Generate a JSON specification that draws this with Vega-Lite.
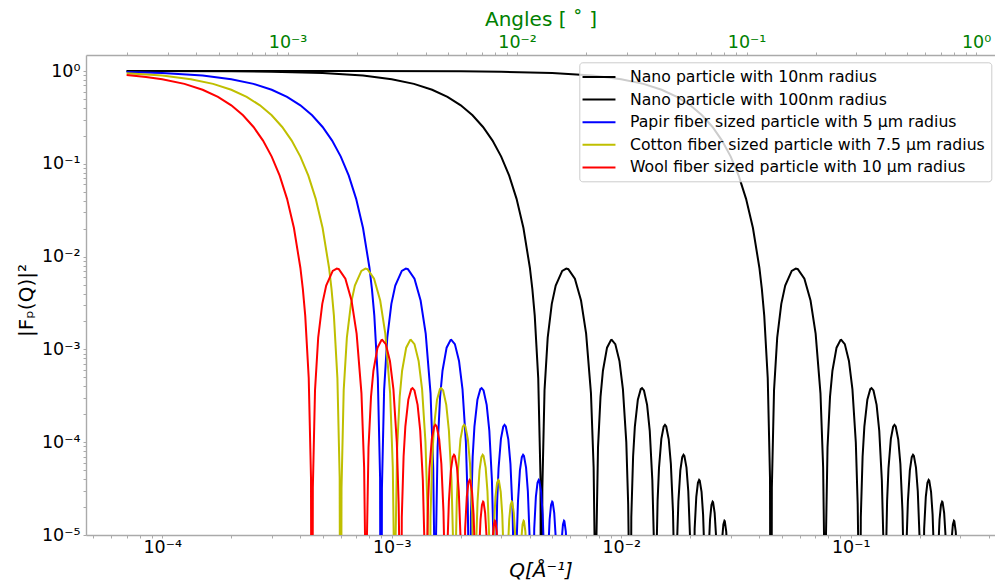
{
"$schema": "https://vega.github.io/schema/vega-lite/v6.json",
"width": 909, "height": 480,
"autosize": {"type": "none"},
"padding": {"left": 86, "top": 55, "right": 0, "bottom": 46},
"config": {
  "view": {"stroke": null},
  "font": "DejaVu Sans",
  "axis": {"grid": false, "domainColor": "#aaaaaa", "tickColor": "#aaaaaa", "domainWidth": 1.4, "tickWidth": 1, "tickSize": 3,
    "labelFont": "DejaVu Sans", "titleFont": "DejaVu Sans", "titleFontWeight": "normal", "labelFontSize": 17.5, "titleFontSize": 20,
    "labelOverlap": false, "labelFlush": false, "labelBound": false, "zindex": 1, "labelColor": "#000000", "titleColor": "#000000"}
},
"datasets": {
"n10": [
{"q":0.00007,"F":1},{"q":0.0007,"F":0.99902},{"q":0.002,"F":0.99203},{"q":0.003,"F":0.98214},{"q":0.005,"F":0.95106},{"q":0.0075,"F":0.89278},{"q":0.01,"F":0.81632},{"q":0.0125,"F":0.72628},{"q":0.015,"F":0.62781},{"q":0.0175,"F":0.5262},{"q":0.02,"F":0.42654},{"q":0.0225,"F":0.33313},{"q":0.025,"F":0.24946},{"q":0.0275,"F":0.17785},{"q":0.03,"F":0.11949},{"q":0.0325,"F":0.074475},{"q":0.035,"F":0.04194},{"q":0.0375,"F":0.020317},{"q":0.04,"F":0.0075834},{"q":0.041,"F":0.0044847},{"q":0.042,"F":0.0023122},{"q":0.0435,"F":0.0004895},{"q":0.0445,"F":0.00004119},{"q":0.044934,"F":1e-9},
{"q":4.5332e-2,"F":3.2116e-5},{"q":4.6332e-2,"F":3.6144e-4},{"q":4.7832e-2,"F":1.3411e-3},{"q":4.9832e-2,"F":3.1e-3},{"q":5.1832e-2,"F":4.8794e-3},{"q":5.5332e-2,"F":7.017e-3},{"q":5.7635e-2,"F":7.427e-3},{"q":5.8832e-2,"F":7.3224e-3},{"q":6.2832e-2,"F":5.7746e-3},{"q":6.6832e-2,"F":3.3583e-3},{"q":7.0332e-2,"F":1.4821e-3},{"q":7.3832e-2,"F":3.3563e-4},{"q":7.5832e-2,"F":5.3677e-5},{"q":7.6832e-2,"F":4.4926e-6},{"q":7.7253e-2,"F":1e-9},
{"q":7.7748e-2,"F":5.9372e-6},{"q":7.9248e-2,"F":8.8204e-5},{"q":8.1248e-2,"F":3.0788e-4},{"q":8.3248e-2,"F":5.8903e-4},{"q":8.6748e-2,"F":1.04343e-3},{"q":9.0248e-2,"F":1.26136e-3},{"q":9.095e-2,"F":1.2677e-3},{"q":9.4248e-2,"F":1.14067e-3},{"q":9.8248e-2,"F":7.5045e-4},{"q":10.1748e-2,"F":3.7101e-4},{"q":10.5248e-2,"F":9.9828e-5},{"q":10.7248e-2,"F":2.147e-5},{"q":10.8248e-2,"F":4.0837e-6},{"q":10.9041e-2,"F":1e-9},
{"q":11.0664e-2,"F":1.5531e-5},{"q":11.2664e-2,"F":6.9617e-5},{"q":11.4664e-2,"F":1.4698e-4},{"q":11.8164e-2,"F":2.8765e-4},{"q":12.1664e-2,"F":3.7312e-4},{"q":12.3229e-2,"F":3.826e-4},{"q":12.5664e-2,"F":3.6091e-4},{"q":12.9664e-2,"F":2.5278e-4},{"q":13.3164e-2,"F":1.3254e-4},{"q":13.6664e-2,"F":3.8918e-5},{"q":13.8664e-2,"F":9.545e-6},{"q":14.0662e-2,"F":1e-9},
{"q":14.208e-2,"F":4.3874e-6},{"q":14.408e-2,"F":2.3351e-5},{"q":14.608e-2,"F":5.234e-5},{"q":14.958e-2,"F":1.0861e-4},{"q":15.308e-2,"F":1.4683e-4},{"q":15.5146e-2,"F":1.534e-4},{"q":15.708e-2,"F":1.4783e-4},{"q":16.108e-2,"F":1.0754e-4},{"q":16.458e-2,"F":5.845e-5},{"q":16.808e-2,"F":1.8094e-5},{"q":17.008e-2,"F":4.78e-6},{"q":17.2208e-2,"F":1e-9},
{"q":17.5496e-2,"F":9.862e-6},{"q":17.7496e-2,"F":2.3015e-5},{"q":18.0996e-2,"F":4.9638e-5},{"q":18.4496e-2,"F":6.8953e-5},{"q":18.689e-2,"F":7.313e-5},{"q":18.8496e-2,"F":7.1292e-5},{"q":19.2496e-2,"F":5.3192e-5},{"q":19.5996e-2,"F":2.9622e-5},{"q":19.9496e-2,"F":9.502e-6},{"q":20.3713e-2,"F":1e-9},
{"q":20.8911e-2,"F":1.1636e-5},{"q":21.2411e-2,"F":2.5791e-5},{"q":21.5911e-2,"F":3.6523e-5},{"q":21.854e-2,"F":3.921e-5},{"q":21.9911e-2,"F":3.8481e-5},{"q":22.3911e-2,"F":2.9239e-5},{"q":22.7411e-2,"F":1.657e-5},{"q":23.0911e-2,"F":5.452e-6},{"q":23.5195e-2,"F":1e-9},
{"q":24.0327e-2,"F":6.496e-6},{"q":24.3827e-2,"F":1.4694e-5},{"q":24.7327e-2,"F":2.1108e-5},{"q":25.013e-2,"F":2.288e-5},{"q":25.1327e-2,"F":2.2557e-5},{"q":25.5327e-2,"F":1.7375e-5},{"q":25.8827e-2,"F":9.977e-6},{"q":26.6661e-2,"F":1e-9},
{"q":27.5243e-2,"F":8.973e-6},{"q":27.8743e-2,"F":1.3034e-5},{"q":28.168e-2,"F":1.424e-5},{"q":28.2743e-2,"F":1.4082e-5},{"q":28.6743e-2,"F":1.0963e-5},{"q":29.0243e-2,"F":6.361e-6},{"q":29.8116e-2,"F":1e-9}
],
"n100": [
{"q":0.00007,"F":0.99902},{"q":0.0002,"F":0.99203},{"q":0.0003,"F":0.98214},{"q":0.0005,"F":0.95106},{"q":0.00075,"F":0.89278},{"q":0.001,"F":0.81632},{"q":0.00125,"F":0.72628},{"q":0.0015,"F":0.62781},{"q":0.00175,"F":0.5262},{"q":0.002,"F":0.42654},{"q":0.00225,"F":0.33313},{"q":0.0025,"F":0.24946},{"q":0.00275,"F":0.17785},{"q":0.003,"F":0.11949},{"q":0.00325,"F":0.074475},{"q":0.0035,"F":0.04194},{"q":0.00375,"F":0.020317},{"q":0.004,"F":0.0075834},{"q":0.0041,"F":0.0044847},{"q":0.0042,"F":0.0023122},{"q":0.00435,"F":0.0004895},{"q":0.00445,"F":0.00004119},{"q":0.0044934,"F":1e-9},
{"q":4.5332e-3,"F":3.2116e-5},{"q":4.6332e-3,"F":3.6144e-4},{"q":4.7832e-3,"F":1.3411e-3},{"q":4.9832e-3,"F":3.1e-3},{"q":5.1832e-3,"F":4.8794e-3},{"q":5.5332e-3,"F":7.017e-3},{"q":5.7635e-3,"F":7.427e-3},{"q":5.8832e-3,"F":7.3224e-3},{"q":6.2832e-3,"F":5.7746e-3},{"q":6.6832e-3,"F":3.3583e-3},{"q":7.0332e-3,"F":1.4821e-3},{"q":7.3832e-3,"F":3.3563e-4},{"q":7.5832e-3,"F":5.3677e-5},{"q":7.6832e-3,"F":4.4926e-6},{"q":7.7253e-3,"F":1e-9},
{"q":7.7748e-3,"F":5.9372e-6},{"q":7.9248e-3,"F":8.8204e-5},{"q":8.1248e-3,"F":3.0788e-4},{"q":8.3248e-3,"F":5.8903e-4},{"q":8.6748e-3,"F":1.04343e-3},{"q":9.0248e-3,"F":1.26136e-3},{"q":9.095e-3,"F":1.2677e-3},{"q":9.4248e-3,"F":1.14067e-3},{"q":9.8248e-3,"F":7.5045e-4},{"q":10.1748e-3,"F":3.7101e-4},{"q":10.5248e-3,"F":9.9828e-5},{"q":10.7248e-3,"F":2.147e-5},{"q":10.8248e-3,"F":4.0837e-6},{"q":10.9041e-3,"F":1e-9},
{"q":11.0664e-3,"F":1.5531e-5},{"q":11.2664e-3,"F":6.9617e-5},{"q":11.4664e-3,"F":1.4698e-4},{"q":11.8164e-3,"F":2.8765e-4},{"q":12.1664e-3,"F":3.7312e-4},{"q":12.3229e-3,"F":3.826e-4},{"q":12.5664e-3,"F":3.6091e-4},{"q":12.9664e-3,"F":2.5278e-4},{"q":13.3164e-3,"F":1.3254e-4},{"q":13.6664e-3,"F":3.8918e-5},{"q":13.8664e-3,"F":9.545e-6},{"q":14.0662e-3,"F":1e-9},
{"q":14.208e-3,"F":4.3874e-6},{"q":14.408e-3,"F":2.3351e-5},{"q":14.608e-3,"F":5.234e-5},{"q":14.958e-3,"F":1.0861e-4},{"q":15.308e-3,"F":1.4683e-4},{"q":15.5146e-3,"F":1.534e-4},{"q":15.708e-3,"F":1.4783e-4},{"q":16.108e-3,"F":1.0754e-4},{"q":16.458e-3,"F":5.845e-5},{"q":16.808e-3,"F":1.8094e-5},{"q":17.008e-3,"F":4.78e-6},{"q":17.2208e-3,"F":1e-9},
{"q":17.5496e-3,"F":9.862e-6},{"q":17.7496e-3,"F":2.3015e-5},{"q":18.0996e-3,"F":4.9638e-5},{"q":18.4496e-3,"F":6.8953e-5},{"q":18.689e-3,"F":7.313e-5},{"q":18.8496e-3,"F":7.1292e-5},{"q":19.2496e-3,"F":5.3192e-5},{"q":19.5996e-3,"F":2.9622e-5},{"q":19.9496e-3,"F":9.502e-6},{"q":20.3713e-3,"F":1e-9},
{"q":20.8911e-3,"F":1.1636e-5},{"q":21.2411e-3,"F":2.5791e-5},{"q":21.5911e-3,"F":3.6523e-5},{"q":21.854e-3,"F":3.921e-5},{"q":21.9911e-3,"F":3.8481e-5},{"q":22.3911e-3,"F":2.9239e-5},{"q":22.7411e-3,"F":1.657e-5},{"q":23.0911e-3,"F":5.452e-6},{"q":23.5195e-3,"F":1e-9},
{"q":24.0327e-3,"F":6.496e-6},{"q":24.3827e-3,"F":1.4694e-5},{"q":24.7327e-3,"F":2.1108e-5},{"q":25.013e-3,"F":2.288e-5},{"q":25.1327e-3,"F":2.2557e-5},{"q":25.5327e-3,"F":1.7375e-5},{"q":25.8827e-3,"F":9.977e-6},{"q":26.6661e-3,"F":1e-9},
{"q":27.5243e-3,"F":8.973e-6},{"q":27.8743e-3,"F":1.3034e-5},{"q":28.168e-3,"F":1.424e-5},{"q":28.2743e-3,"F":1.4082e-5},{"q":28.6743e-3,"F":1.0963e-5},{"q":29.0243e-3,"F":6.361e-6},{"q":29.8116e-3,"F":1e-9}
],
"papir": [
{"q":7e-5,"F":0.97575},{"q":1e-4,"F":0.95106},{"q":1.5e-4,"F":0.89278},{"q":2e-4,"F":0.81632},{"q":2.5e-4,"F":0.72628},{"q":3e-4,"F":0.62781},{"q":3.5e-4,"F":0.5262},{"q":4e-4,"F":0.42654},{"q":4.5e-4,"F":0.33313},{"q":5e-4,"F":0.24946},{"q":5.5e-4,"F":0.17785},{"q":6e-4,"F":0.11949},{"q":6.5e-4,"F":0.074475},{"q":7e-4,"F":0.04194},{"q":7.5e-4,"F":0.020317},{"q":8e-4,"F":0.0075834},{"q":8.2e-4,"F":0.0044847},{"q":8.4e-4,"F":0.0023122},{"q":8.7e-4,"F":0.0004895},{"q":8.9e-4,"F":0.00004119},{"q":8.9868e-4,"F":1e-9},
{"q":9.0664e-4,"F":3.2116e-5},{"q":9.2664e-4,"F":3.6144e-4},{"q":9.5664e-4,"F":1.3411e-3},{"q":9.9664e-4,"F":3.1e-3},{"q":1.03664e-3,"F":4.8794e-3},{"q":1.10664e-3,"F":7.017e-3},{"q":1.1527e-3,"F":7.427e-3},{"q":1.17664e-3,"F":7.3224e-3},{"q":1.25664e-3,"F":5.7746e-3},{"q":1.33664e-3,"F":3.3583e-3},{"q":1.40664e-3,"F":1.4821e-3},{"q":1.47664e-3,"F":3.3563e-4},{"q":1.51664e-3,"F":5.3677e-5},{"q":1.53664e-3,"F":4.4926e-6},{"q":1.54506e-3,"F":1e-9},
{"q":1.55496e-3,"F":5.9372e-6},{"q":1.58496e-3,"F":8.8204e-5},{"q":1.62496e-3,"F":3.0788e-4},{"q":1.66496e-3,"F":5.8903e-4},{"q":1.73496e-3,"F":1.04343e-3},{"q":1.80496e-3,"F":1.26136e-3},{"q":1.819e-3,"F":1.2677e-3},{"q":1.88496e-3,"F":1.14067e-3},{"q":1.96496e-3,"F":7.5045e-4},{"q":2.03496e-3,"F":3.7101e-4},{"q":2.10496e-3,"F":9.9828e-5},{"q":2.14496e-3,"F":2.147e-5},{"q":2.16496e-3,"F":4.0837e-6},{"q":2.18082e-3,"F":1e-9},
{"q":2.21328e-3,"F":1.5531e-5},{"q":2.25328e-3,"F":6.9617e-5},{"q":2.29328e-3,"F":1.4698e-4},{"q":2.36328e-3,"F":2.8765e-4},{"q":2.43328e-3,"F":3.7312e-4},{"q":2.46458e-3,"F":3.826e-4},{"q":2.51328e-3,"F":3.6091e-4},{"q":2.59328e-3,"F":2.5278e-4},{"q":2.66328e-3,"F":1.3254e-4},{"q":2.73328e-3,"F":3.8918e-5},{"q":2.77328e-3,"F":9.545e-6},{"q":2.81324e-3,"F":1e-9},
{"q":2.8416e-3,"F":4.3874e-6},{"q":2.8816e-3,"F":2.3351e-5},{"q":2.9216e-3,"F":5.234e-5},{"q":2.9916e-3,"F":1.0861e-4},{"q":3.0616e-3,"F":1.4683e-4},{"q":3.10292e-3,"F":1.534e-4},{"q":3.1416e-3,"F":1.4783e-4},{"q":3.2216e-3,"F":1.0754e-4},{"q":3.2916e-3,"F":5.845e-5},{"q":3.3616e-3,"F":1.8094e-5},{"q":3.4016e-3,"F":4.78e-6},{"q":3.44416e-3,"F":1e-9},
{"q":3.50992e-3,"F":9.862e-6},{"q":3.54992e-3,"F":2.3015e-5},{"q":3.61992e-3,"F":4.9638e-5},{"q":3.68992e-3,"F":6.8953e-5},{"q":3.7378e-3,"F":7.313e-5},{"q":3.76992e-3,"F":7.1292e-5},{"q":3.84992e-3,"F":5.3192e-5},{"q":3.91992e-3,"F":2.9622e-5},{"q":3.98992e-3,"F":9.502e-6},{"q":4.07426e-3,"F":1e-9},
{"q":4.17822e-3,"F":1.1636e-5},{"q":4.24822e-3,"F":2.5791e-5},{"q":4.31822e-3,"F":3.6523e-5},{"q":4.3708e-3,"F":3.921e-5},{"q":4.39822e-3,"F":3.8481e-5},{"q":4.47822e-3,"F":2.9239e-5},{"q":4.54822e-3,"F":1.657e-5},{"q":4.61822e-3,"F":5.452e-6},{"q":4.7039e-3,"F":1e-9},
{"q":4.80654e-3,"F":6.496e-6},{"q":4.87654e-3,"F":1.4694e-5},{"q":4.94654e-3,"F":2.1108e-5},{"q":5.0026e-3,"F":2.288e-5},{"q":5.02654e-3,"F":2.2557e-5},{"q":5.10654e-3,"F":1.7375e-5},{"q":5.17654e-3,"F":9.977e-6},{"q":5.33322e-3,"F":1e-9},
{"q":5.50486e-3,"F":8.973e-6},{"q":5.57486e-3,"F":1.3034e-5},{"q":5.6336e-3,"F":1.424e-5},{"q":5.65486e-3,"F":1.4082e-5},{"q":5.73486e-3,"F":1.0963e-5},{"q":5.80486e-3,"F":6.361e-6},{"q":5.96232e-3,"F":1e-9}
],
"cotton": [
{"q":7e-5,"F":0.94616},{"q":1e-4,"F":0.89278},{"q":1.33333e-4,"F":0.81632},{"q":1.66667e-4,"F":0.72628},{"q":2e-4,"F":0.62781},{"q":2.33333e-4,"F":0.5262},{"q":2.66667e-4,"F":0.42654},{"q":3e-4,"F":0.33313},{"q":3.33333e-4,"F":0.24946},{"q":3.66667e-4,"F":0.17785},{"q":4e-4,"F":0.11949},{"q":4.33333e-4,"F":0.074475},{"q":4.66667e-4,"F":0.04194},{"q":5e-4,"F":0.020317},{"q":5.33333e-4,"F":0.0075834},{"q":5.46667e-4,"F":0.0044847},{"q":5.6e-4,"F":0.0023122},{"q":5.8e-4,"F":0.0004895},{"q":5.93333e-4,"F":0.00004119},{"q":5.9912e-4,"F":1e-9},
{"q":6.04427e-4,"F":3.2116e-5},{"q":6.1776e-4,"F":3.6144e-4},{"q":6.3776e-4,"F":1.3411e-3},{"q":6.64427e-4,"F":3.1e-3},{"q":6.91093e-4,"F":4.8794e-3},{"q":7.3776e-4,"F":7.017e-3},{"q":7.68467e-4,"F":7.427e-3},{"q":7.84427e-4,"F":7.3224e-3},{"q":8.3776e-4,"F":5.7746e-3},{"q":8.91093e-4,"F":3.3583e-3},{"q":9.3776e-4,"F":1.4821e-3},{"q":9.84427e-4,"F":3.3563e-4},{"q":1.011093e-3,"F":5.3677e-5},{"q":1.024427e-3,"F":4.4926e-6},{"q":1.03004e-3,"F":1e-9},
{"q":1.03664e-3,"F":5.9372e-6},{"q":1.05664e-3,"F":8.8204e-5},{"q":1.083307e-3,"F":3.0788e-4},{"q":1.109973e-3,"F":5.8903e-4},{"q":1.15664e-3,"F":1.04343e-3},{"q":1.203307e-3,"F":1.26136e-3},{"q":1.212667e-3,"F":1.2677e-3},{"q":1.25664e-3,"F":1.14067e-3},{"q":1.309973e-3,"F":7.5045e-4},{"q":1.35664e-3,"F":3.7101e-4},{"q":1.403307e-3,"F":9.9828e-5},{"q":1.429973e-3,"F":2.147e-5},{"q":1.443307e-3,"F":4.0837e-6},{"q":1.45388e-3,"F":1e-9},
{"q":1.47552e-3,"F":1.5531e-5},{"q":1.502187e-3,"F":6.9617e-5},{"q":1.528853e-3,"F":1.4698e-4},{"q":1.57552e-3,"F":2.8765e-4},{"q":1.622187e-3,"F":3.7312e-4},{"q":1.643053e-3,"F":3.826e-4},{"q":1.67552e-3,"F":3.6091e-4},{"q":1.728853e-3,"F":2.5278e-4},{"q":1.77552e-3,"F":1.3254e-4},{"q":1.822187e-3,"F":3.8918e-5},{"q":1.848853e-3,"F":9.545e-6},{"q":1.875493e-3,"F":1e-9},
{"q":1.8944e-3,"F":4.3874e-6},{"q":1.921067e-3,"F":2.3351e-5},{"q":1.947733e-3,"F":5.234e-5},{"q":1.9944e-3,"F":1.0861e-4},{"q":2.041067e-3,"F":1.4683e-4},{"q":2.068613e-3,"F":1.534e-4},{"q":2.0944e-3,"F":1.4783e-4},{"q":2.147733e-3,"F":1.0754e-4},{"q":2.1944e-3,"F":5.845e-5},{"q":2.241067e-3,"F":1.8094e-5},{"q":2.267733e-3,"F":4.78e-6},{"q":2.296107e-3,"F":1e-9},
{"q":2.339947e-3,"F":9.862e-6},{"q":2.366613e-3,"F":2.3015e-5},{"q":2.41328e-3,"F":4.9638e-5},{"q":2.459947e-3,"F":6.8953e-5},{"q":2.491867e-3,"F":7.313e-5},{"q":2.51328e-3,"F":7.1292e-5},{"q":2.566613e-3,"F":5.3192e-5},{"q":2.61328e-3,"F":2.9622e-5},{"q":2.659947e-3,"F":9.502e-6},{"q":2.716173e-3,"F":1e-9},
{"q":2.78548e-3,"F":1.1636e-5},{"q":2.832147e-3,"F":2.5791e-5},{"q":2.878813e-3,"F":3.6523e-5},{"q":2.913867e-3,"F":3.921e-5},{"q":2.932147e-3,"F":3.8481e-5},{"q":2.98548e-3,"F":2.9239e-5},{"q":3.032147e-3,"F":1.657e-5},{"q":3.078813e-3,"F":5.452e-6},{"q":3.135933e-3,"F":1e-9},
{"q":3.20436e-3,"F":6.496e-6},{"q":3.251027e-3,"F":1.4694e-5},{"q":3.297693e-3,"F":2.1108e-5},{"q":3.335067e-3,"F":2.288e-5},{"q":3.351027e-3,"F":2.2557e-5},{"q":3.40436e-3,"F":1.7375e-5},{"q":3.451027e-3,"F":9.977e-6},{"q":3.55548e-3,"F":1e-9},
{"q":3.669907e-3,"F":8.973e-6},{"q":3.716573e-3,"F":1.3034e-5},{"q":3.755733e-3,"F":1.424e-5},{"q":3.769907e-3,"F":1.4082e-5},{"q":3.82324e-3,"F":1.0963e-5},{"q":3.869907e-3,"F":6.361e-6},{"q":3.97488e-3,"F":1e-9}
],
"wool": [
{"q":7e-5,"F":0.90602},{"q":8.5e-5,"F":0.86414},{"q":1e-4,"F":0.81632},{"q":1.25e-4,"F":0.72628},{"q":1.5e-4,"F":0.62781},{"q":1.75e-4,"F":0.5262},{"q":2e-4,"F":0.42654},{"q":2.25e-4,"F":0.33313},{"q":2.5e-4,"F":0.24946},{"q":2.75e-4,"F":0.17785},{"q":3e-4,"F":0.11949},{"q":3.25e-4,"F":0.074475},{"q":3.5e-4,"F":0.04194},{"q":3.75e-4,"F":0.020317},{"q":4e-4,"F":0.0075834},{"q":4.1e-4,"F":0.0044847},{"q":4.2e-4,"F":0.0023122},{"q":4.35e-4,"F":0.0004895},{"q":4.45e-4,"F":0.00004119},{"q":4.4934e-4,"F":1e-9},
{"q":4.5332e-4,"F":3.2116e-5},{"q":4.6332e-4,"F":3.6144e-4},{"q":4.7832e-4,"F":1.3411e-3},{"q":4.9832e-4,"F":3.1e-3},{"q":5.1832e-4,"F":4.8794e-3},{"q":5.5332e-4,"F":7.017e-3},{"q":5.7635e-4,"F":7.427e-3},{"q":5.8832e-4,"F":7.3224e-3},{"q":6.2832e-4,"F":5.7746e-3},{"q":6.6832e-4,"F":3.3583e-3},{"q":7.0332e-4,"F":1.4821e-3},{"q":7.3832e-4,"F":3.3563e-4},{"q":7.5832e-4,"F":5.3677e-5},{"q":7.6832e-4,"F":4.4926e-6},{"q":7.7253e-4,"F":1e-9},
{"q":7.7748e-4,"F":5.9372e-6},{"q":7.9248e-4,"F":8.8204e-5},{"q":8.1248e-4,"F":3.0788e-4},{"q":8.3248e-4,"F":5.8903e-4},{"q":8.6748e-4,"F":1.04343e-3},{"q":9.0248e-4,"F":1.26136e-3},{"q":9.095e-4,"F":1.2677e-3},{"q":9.4248e-4,"F":1.14067e-3},{"q":9.8248e-4,"F":7.5045e-4},{"q":10.1748e-4,"F":3.7101e-4},{"q":10.5248e-4,"F":9.9828e-5},{"q":10.7248e-4,"F":2.147e-5},{"q":10.8248e-4,"F":4.0837e-6},{"q":10.9041e-4,"F":1e-9},
{"q":11.0664e-4,"F":1.5531e-5},{"q":11.2664e-4,"F":6.9617e-5},{"q":11.4664e-4,"F":1.4698e-4},{"q":11.8164e-4,"F":2.8765e-4},{"q":12.1664e-4,"F":3.7312e-4},{"q":12.3229e-4,"F":3.826e-4},{"q":12.5664e-4,"F":3.6091e-4},{"q":12.9664e-4,"F":2.5278e-4},{"q":13.3164e-4,"F":1.3254e-4},{"q":13.6664e-4,"F":3.8918e-5},{"q":13.8664e-4,"F":9.545e-6},{"q":14.0662e-4,"F":1e-9},
{"q":14.208e-4,"F":4.3874e-6},{"q":14.408e-4,"F":2.3351e-5},{"q":14.608e-4,"F":5.234e-5},{"q":14.958e-4,"F":1.0861e-4},{"q":15.308e-4,"F":1.4683e-4},{"q":15.5146e-4,"F":1.534e-4},{"q":15.708e-4,"F":1.4783e-4},{"q":16.108e-4,"F":1.0754e-4},{"q":16.458e-4,"F":5.845e-5},{"q":16.808e-4,"F":1.8094e-5},{"q":17.008e-4,"F":4.78e-6},{"q":17.2208e-4,"F":1e-9},
{"q":17.5496e-4,"F":9.862e-6},{"q":17.7496e-4,"F":2.3015e-5},{"q":18.0996e-4,"F":4.9638e-5},{"q":18.4496e-4,"F":6.8953e-5},{"q":18.689e-4,"F":7.313e-5},{"q":18.8496e-4,"F":7.1292e-5},{"q":19.2496e-4,"F":5.3192e-5},{"q":19.5996e-4,"F":2.9622e-5},{"q":19.9496e-4,"F":9.502e-6},{"q":20.3713e-4,"F":1e-9},
{"q":20.8911e-4,"F":1.1636e-5},{"q":21.2411e-4,"F":2.5791e-5},{"q":21.5911e-4,"F":3.6523e-5},{"q":21.854e-4,"F":3.921e-5},{"q":21.9911e-4,"F":3.8481e-5},{"q":22.3911e-4,"F":2.9239e-5},{"q":22.7411e-4,"F":1.657e-5},{"q":23.0911e-4,"F":5.452e-6},{"q":23.5195e-4,"F":1e-9},
{"q":24.0327e-4,"F":6.496e-6},{"q":24.3827e-4,"F":1.4694e-5},{"q":24.7327e-4,"F":2.1108e-5},{"q":25.013e-4,"F":2.288e-5},{"q":25.1327e-4,"F":2.2557e-5},{"q":25.5327e-4,"F":1.7375e-5},{"q":25.8827e-4,"F":9.977e-6},{"q":26.6661e-4,"F":1e-9},
{"q":27.5243e-4,"F":8.973e-6},{"q":27.8743e-4,"F":1.3034e-5},{"q":28.168e-4,"F":1.424e-5},{"q":28.2743e-4,"F":1.4082e-5},{"q":28.6743e-4,"F":1.0963e-5},{"q":29.0243e-4,"F":6.361e-6},{"q":29.8116e-4,"F":1e-9}
],
"angles": [{"a": 1.3228e-4}, {"a": 1.2087}]
},
"layer": [
 {
  "encoding": {
    "x": {"field": "q", "type": "quantitative",
      "scale": {"type": "log", "domain": [4.656e-5, 0.4253], "nice": false},
      "axis": {"orient": "bottom",
        "values": [5e-5,6e-5,7e-5,8e-5,9e-5,1e-4,2e-4,3e-4,4e-4,5e-4,6e-4,7e-4,8e-4,9e-4,1e-3,2e-3,3e-3,4e-3,5e-3,6e-3,7e-3,8e-3,9e-3,1e-2,2e-2,3e-2,4e-2,5e-2,6e-2,7e-2,8e-2,9e-2,0.1,0.2,0.3,0.4],
        "labelExpr": "abs(log(datum.value)/LN10 - round(log(datum.value)/LN10)) > 0.01 ? '' : '10' + ['⁻⁵','⁻⁴','⁻³','⁻²','⁻¹','⁰'][round(log(datum.value)/LN10) + 5]",
        "labelBaseline": "alphabetic", "labelPadding": 14.3,
        "title": "Q[Å⁻¹]", "titleFontStyle": "italic", "titleX": 454.5, "titleY": 41.8, "titleBaseline": "alphabetic", "titleAlign": "center"}},
    "y": {"field": "F", "type": "quantitative",
      "scale": {"type": "log", "domain": [1e-5, 1.4876], "nice": false},
      "axis": {"orient": "left",
        "values": [1e-5,2e-5,3e-5,4e-5,5e-5,6e-5,7e-5,8e-5,9e-5,1e-4,2e-4,3e-4,4e-4,5e-4,6e-4,7e-4,8e-4,9e-4,1e-3,2e-3,3e-3,4e-3,5e-3,6e-3,7e-3,8e-3,9e-3,1e-2,2e-2,3e-2,4e-2,5e-2,6e-2,7e-2,8e-2,9e-2,0.1,0.2,0.3,0.4,0.5,0.6,0.7,0.8,0.9,1],
        "labelExpr": "abs(log(datum.value)/LN10 - round(log(datum.value)/LN10)) > 0.01 ? '' : '10' + ['⁻⁵','⁻⁴','⁻³','⁻²','⁻¹','⁰'][round(log(datum.value)/LN10) + 5]",
        "labelBaseline": "middle", "labelPadding": 3,
        "title": "|Fₚ(Q)|²", "titleX": -54, "titleY": 245, "titleAngle": 270, "titleBaseline": "alphabetic", "titleAlign": "center"}}
  },
  "layer": [
    {"data": {"name": "n10"}, "mark": {"type": "line", "clip": true, "strokeWidth": 2},
     "encoding": {"color": {"datum": "Nano particle with 10nm radius", "type": "nominal",
       "scale": {"domain": ["Nano particle with 10nm radius", "Nano particle with 100nm radius", "Papir fiber sized particle with 5 μm radius", "Cotton fiber sized particle with 7.5 μm radius", "Wool fiber sized particle with 10 μm radius"],
                 "range": ["#000000", "#000000", "#0000ff", "#bfbf00", "#ff0000"]},
       "legend": {"orient": "none", "legendX": 493.3, "legendY": 7.3, "title": null, "labelFont": "DejaVu Sans", "labelFontSize": 15.7, "labelColor": "#000000",
         "symbolType": "M-2.1,0H2.1", "symbolSize": 246, "symbolStrokeWidth": 2, "symbolOffset": 5, "labelOffset": 22, "padding": 5.7, "rowPadding": 5.6,
         "fillColor": "rgba(255,255,255,0.8)", "strokeColor": "#cccccc", "cornerRadius": 3, "labelLimit": 0}}}},
    {"data": {"name": "n100"}, "mark": {"type": "line", "clip": true, "strokeWidth": 2},
     "encoding": {"color": {"datum": "Nano particle with 100nm radius", "type": "nominal"}}},
    {"data": {"name": "papir"}, "mark": {"type": "line", "clip": true, "strokeWidth": 2},
     "encoding": {"color": {"datum": "Papir fiber sized particle with 5 μm radius", "type": "nominal"}}},
    {"data": {"name": "cotton"}, "mark": {"type": "line", "clip": true, "strokeWidth": 2},
     "encoding": {"color": {"datum": "Cotton fiber sized particle with 7.5 μm radius", "type": "nominal"}}},
    {"data": {"name": "wool"}, "mark": {"type": "line", "clip": true, "strokeWidth": 2},
     "encoding": {"color": {"datum": "Wool fiber sized particle with 10 μm radius", "type": "nominal"}}}
  ]
 },
 {
  "data": {"name": "angles"},
  "mark": {"type": "point", "opacity": 0},
  "encoding": {
    "x": {"field": "a", "type": "quantitative",
      "scale": {"type": "log", "domain": [1.3228e-4, 1.2087], "nice": false},
      "axis": {"orient": "top",
        "values": [2e-4,3e-4,4e-4,5e-4,6e-4,7e-4,8e-4,9e-4,1e-3,2e-3,3e-3,4e-3,5e-3,6e-3,7e-3,8e-3,9e-3,1e-2,2e-2,3e-2,4e-2,5e-2,6e-2,7e-2,8e-2,9e-2,0.1,0.2,0.3,0.4,0.5,0.6,0.7,0.8,0.9,1],
        "labelExpr": "abs(log(datum.value)/LN10 - round(log(datum.value)/LN10)) > 0.01 ? '' : '10' + ['⁻⁵','⁻⁴','⁻³','⁻²','⁻¹','⁰'][round(log(datum.value)/LN10) + 5]",
        "labelBaseline": "alphabetic", "labelPadding": 5, "labelColor": "#008000",
        "title": "Angles [ ˚ ]", "titleColor": "#008000", "titleX": 454.5, "titleY": -30, "titleBaseline": "alphabetic", "titleAlign": "center"}}
  }
 }
],
"resolve": {"scale": {"x": "independent"}}
}
